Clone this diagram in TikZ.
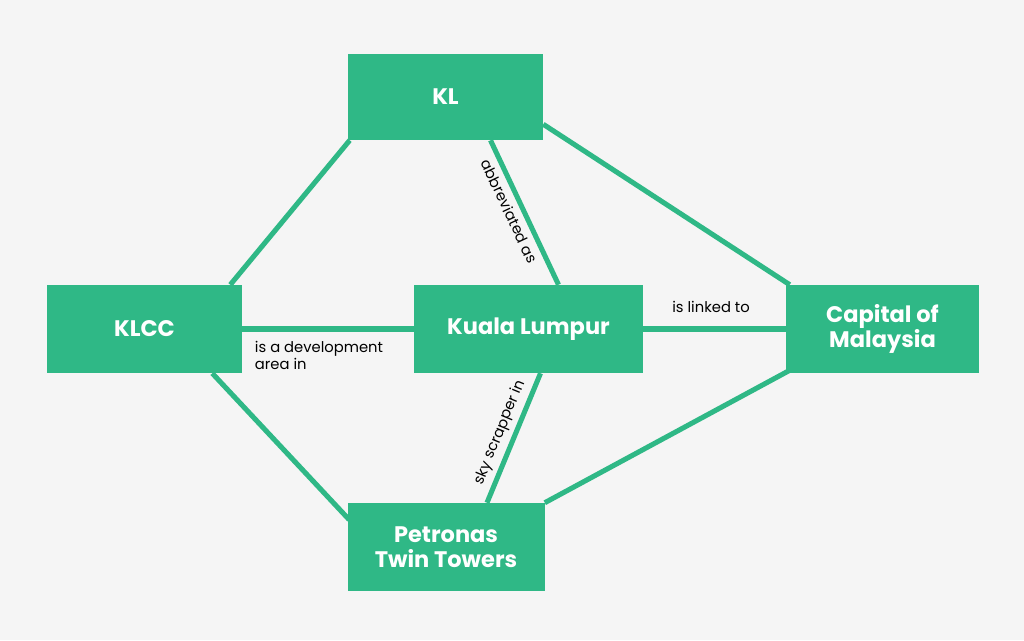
\documentclass[tikz,border=0pt]{standalone}
\usepackage{fontspec}
\setmainfont{Poppins}
\usetikzlibrary{calc}
\definecolor{grn}{HTML}{2FB886}
\begin{document}
\begin{tikzpicture}[x=0.025cm,y=-0.025cm,
  box/.style={fill=grn,text=white,font=\bfseries\fontsize{16}{18}\selectfont,align=center,minimum height=88*0.025cm,inner sep=0pt},
  link/.style={draw=grn,line width=3.6pt},
  lab/.style={font=\fontsize{10.5}{12.5}\selectfont,text=black,align=left}]
\fill[white!96!black] (0,0) rectangle (1024,640);
\useasboundingbox (0,0) rectangle (1024,640);
\node[box,minimum width=195*0.025cm,minimum height=86*0.025cm] (KL) at (445.5,97) {KL};
\node[box,minimum width=195*0.025cm] (KLCC) at (144.5,329) {KLCC};
\node[box,minimum width=229*0.025cm] (KU) at (528.5,329) {Kuala Lumpur};
\node[box,minimum width=193*0.025cm] (CA) at (882.5,329) {Capital of\\Malaysia};
\node[box,minimum width=197*0.025cm] (PT) at (446,547) {Petronas\\Twin Towers};
\begin{scope}[on background layer/.style={}]
\end{scope}
\draw[link] ($(KL.south west)+(2,0)$) -- ($(KLCC.north east)+(-12,0)$);
\draw[link] ($(KL.south east)+(0,-16)$) -- ($(CA.north west)+(4,0)$);
\draw[link] ($(KL.south)+(45,0)$) -- node[lab,sloped,below,pos=0.45]{abbreviated as} ($(KU.north)+(30,0)$);
\draw[link] (KLCC.east) -- (KU.west);
\node[lab,anchor=north west] (L1) at (250,336) {is a development\\area in};
\draw[link] (KU.east) -- (CA.west);
\node[lab,anchor=south] (L2) at (711,318) {is linked to};
\draw[link] ($(PT.north)+(41,0)$) -- node[lab,sloped,above,pos=0.5]{sky scrapper in} ($(KU.south)+(12,0)$);
\draw[link] ($(KLCC.south east)+(-30,0)$) -- ($(PT.north west)+(2,17)$);
\draw[link] ($(CA.south west)+(4,-3)$) -- ($(PT.north east)+(0,0)$);
\end{tikzpicture}
\end{document}
